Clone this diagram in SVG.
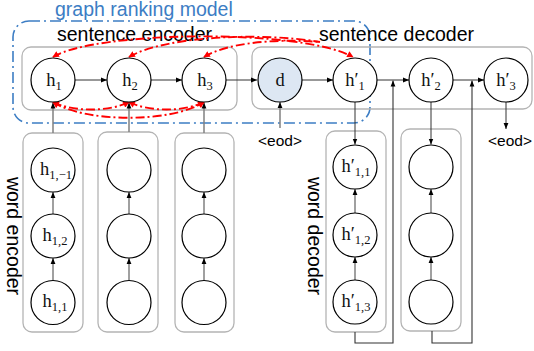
<svg xmlns="http://www.w3.org/2000/svg" width="534" height="351" viewBox="0 0 534 351">
<style>
.box{fill:none;stroke:#b4b4b4;stroke-width:1.3}
.nd{fill:#fff;stroke:#000;stroke-width:1.2}
.dnode{fill:#dde7f3;stroke:#000;stroke-width:1.2}
.lbl{font-family:"Liberation Serif","DejaVu Serif",serif;font-size:18.5px;fill:#111}
.sub{font-size:12.5px}
.ttl{font-family:"Liberation Sans",Arial,sans-serif;font-size:19.5px;fill:#000}
.eod{font-family:"Liberation Sans",Arial,sans-serif;font-size:15.5px;fill:#000}
.arr{fill:none;stroke:#333;stroke-width:1}
.garr{fill:none;stroke:#808080;stroke-width:1.5}
.fb{fill:none;stroke:#333;stroke-width:1.1}
.red{fill:none;stroke:#ff0000;stroke-width:1.9;stroke-dasharray:9 3 2 3}
.blue{fill:none;stroke:#3c7dc4;stroke-width:1.6;stroke-dasharray:11 4 2 4}
</style>
<defs>
<marker id="ah" viewBox="0 0 10 10" refX="10" refY="5" markerWidth="6" markerHeight="6" markerUnits="userSpaceOnUse" orient="auto">
<path d="M0,1 L10,5 L0,9 z" fill="#000"/>
</marker>
<marker id="rh" viewBox="0 0 10 10" refX="9" refY="5" markerWidth="7" markerHeight="6.5" markerUnits="userSpaceOnUse" orient="auto-start-reverse">
<path d="M0,0 L10,5 L0,10 z" fill="#ff0000"/>
</marker>
</defs>
<rect width="534" height="351" fill="#fff"/>

<g id="graph-ranking-model">
<rect class="blue" x="13" y="21" width="357" height="102" rx="16"/>
<text x="55" y="16" font-family="Liberation Sans, Arial, sans-serif" font-size="19.5" fill="#3c7dc4">graph ranking model</text>
</g>

<g id="sentence-encoder">
<rect class="box" x="22" y="47" width="215" height="63" rx="9"/>
<text class="ttl" x="57" y="41">sentence encoder</text>
</g>
<g id="sentence-decoder">
<rect class="box" x="252" y="47" width="280" height="62" rx="9"/>
<text class="ttl" x="319" y="41">sentence decoder</text>
</g>

<g id="word-encoder-1"><rect class="box" x="23" y="133" width="60" height="199" rx="9"/></g>
<g id="word-encoder-2"><rect class="box" x="98" y="132" width="60" height="200" rx="9"/></g>
<g id="word-encoder-3"><rect class="box" x="175" y="133" width="59" height="199" rx="9"/></g>
<g id="word-decoder-1"><rect class="box" x="326" y="131" width="60" height="201" rx="9"/></g>
<g id="word-decoder-2"><rect class="box" x="401" y="129" width="60" height="202" rx="9"/></g>
<text class="ttl" transform="translate(7,236) rotate(90)" text-anchor="middle">word encoder</text>
<text class="ttl" transform="translate(308,236) rotate(90)" text-anchor="middle">word decoder</text>

<g id="connectors">
<path class="arr" d="M75,80 H107" marker-end="url(#ah)"/>
<path class="arr" d="M151,80 H182" marker-end="url(#ah)"/>
<path class="arr" d="M226,80 H257" marker-end="url(#ah)"/>
<path class="arr" d="M302,80 H333" marker-end="url(#ah)"/>
<path class="arr" d="M377,80 H409" marker-end="url(#ah)"/>
<path class="arr" d="M453,80 H484" marker-end="url(#ah)"/>
<path class="garr" d="M53,133 V102.5" marker-end="url(#ah)"/>
<path class="garr" d="M129,132 V102.5" marker-end="url(#ah)"/>
<path class="garr" d="M204,133 V102.5" marker-end="url(#ah)"/>
<path class="garr" d="M280,128 V102" marker-end="url(#ah)"/>
<path class="arr" d="M355,102 V144.5" marker-end="url(#ah)"/>
<path class="arr" d="M431,102 V144.5" marker-end="url(#ah)"/>
<path class="arr" d="M506,102 V129" marker-end="url(#ah)"/>
<path class="garr" d="M53,280.5 V258" marker-end="url(#ah)"/>
<path class="garr" d="M53,214 V192" marker-end="url(#ah)"/>
<path class="garr" d="M129,280.5 V258" marker-end="url(#ah)"/>
<path class="garr" d="M129,214 V192" marker-end="url(#ah)"/>
<path class="garr" d="M204,280.5 V258" marker-end="url(#ah)"/>
<path class="garr" d="M204,214 V192" marker-end="url(#ah)"/>
<path class="garr" d="M355,280 V257" marker-end="url(#ah)"/>
<path class="garr" d="M355,213 V189" marker-end="url(#ah)"/>
<path class="garr" d="M431,280 V257" marker-end="url(#ah)"/>
<path class="garr" d="M431,213 V189" marker-end="url(#ah)"/>
<path class="fb" d="M355,332 V343 H393 V80.5" marker-end="url(#ah)"/>
<path class="fb" d="M432,331 V343 H472 V80.5" marker-end="url(#ah)"/>
<path class="red" d="M53,57 C 95,31 300,28 353,57" marker-start="url(#rh)" marker-end="url(#rh)"/>
<path class="red" d="M129,57 C 165,36 260,32 320,42"  marker-start="url(#rh)"/>
<path class="red" d="M204,57 C 225,44 270,38 320,42" marker-start="url(#rh)"/>
<path class="red" d="M53,102 C 72,112 110,112 129,102" marker-start="url(#rh)" marker-end="url(#rh)"/>
<path class="red" d="M129,102 C 148,112 185,112 204,102" marker-start="url(#rh)" marker-end="url(#rh)"/>
<path class="red" d="M53,102 C 85,123 172,123 204,102" marker-start="url(#rh)" marker-end="url(#rh)"/>
</g>

<g id="h1"><circle class="nd" cx="53" cy="80" r="22"/><text class="lbl" x="54" y="86" text-anchor="middle">h<tspan class="sub" dy="4">1</tspan></text></g>
<g id="h2"><circle class="nd" cx="129" cy="80" r="22"/><text class="lbl" x="130" y="86" text-anchor="middle">h<tspan class="sub" dy="4">2</tspan></text></g>
<g id="h3"><circle class="nd" cx="204" cy="80" r="22"/><text class="lbl" x="205" y="86" text-anchor="middle">h<tspan class="sub" dy="4">3</tspan></text></g>
<g id="d"><circle class="dnode" cx="280" cy="80" r="22"/><text class="lbl" x="280" y="86" text-anchor="middle">d</text></g>
<g id="h1p"><circle class="nd" cx="355" cy="80" r="22"/><text class="lbl" x="355" y="86" text-anchor="middle">h′<tspan class="sub" dy="4">1</tspan></text></g>
<g id="h2p"><circle class="nd" cx="431" cy="80" r="22"/><text class="lbl" x="431" y="86" text-anchor="middle">h′<tspan class="sub" dy="4">2</tspan></text></g>
<g id="h3p"><circle class="nd" cx="506" cy="80" r="22"/><text class="lbl" x="506" y="86" text-anchor="middle">h′<tspan class="sub" dy="4">3</tspan></text></g>
<g id="eod-1"><text class="eod" x="280" y="146" text-anchor="middle">&lt;eod&gt;</text></g>
<g id="eod-2"><text class="eod" x="510" y="146" text-anchor="middle">&lt;eod&gt;</text></g>

<g id="w11"><circle class="nd" cx="53" cy="170" r="22"/><text class="lbl" x="56" y="175" text-anchor="middle">h<tspan class="sub" dy="4">1,−1</tspan></text></g>
<g id="w12"><circle class="nd" cx="53" cy="236" r="22"/><text class="lbl" x="55" y="241" text-anchor="middle">h<tspan class="sub" dy="4">1,2</tspan></text></g>
<g id="w13"><circle class="nd" cx="53" cy="302.5" r="22"/><text class="lbl" x="55" y="307" text-anchor="middle">h<tspan class="sub" dy="4">1,1</tspan></text></g>
<g id="w21"><circle class="nd" cx="129" cy="170" r="22"/></g>
<g id="w22"><circle class="nd" cx="129" cy="236" r="22"/></g>
<g id="w23"><circle class="nd" cx="129" cy="302.5" r="22"/></g>
<g id="w31"><circle class="nd" cx="204" cy="170" r="22"/></g>
<g id="w32"><circle class="nd" cx="204" cy="236" r="22"/></g>
<g id="w33"><circle class="nd" cx="204" cy="302.5" r="22"/></g>
<g id="v11"><circle class="nd" cx="355" cy="167" r="22"/><text class="lbl" x="356" y="172" text-anchor="middle">h′<tspan class="sub" dy="4">1,1</tspan></text></g>
<g id="v12"><circle class="nd" cx="355" cy="235" r="22"/><text class="lbl" x="356" y="240" text-anchor="middle">h′<tspan class="sub" dy="4">1,2</tspan></text></g>
<g id="v13"><circle class="nd" cx="355" cy="302" r="22"/><text class="lbl" x="356" y="307" text-anchor="middle">h′<tspan class="sub" dy="4">1,3</tspan></text></g>
<g id="v21"><circle class="nd" cx="431" cy="167" r="22"/></g>
<g id="v22"><circle class="nd" cx="431" cy="235" r="22"/></g>
<g id="v23"><circle class="nd" cx="431" cy="302" r="22"/></g>
</svg>
